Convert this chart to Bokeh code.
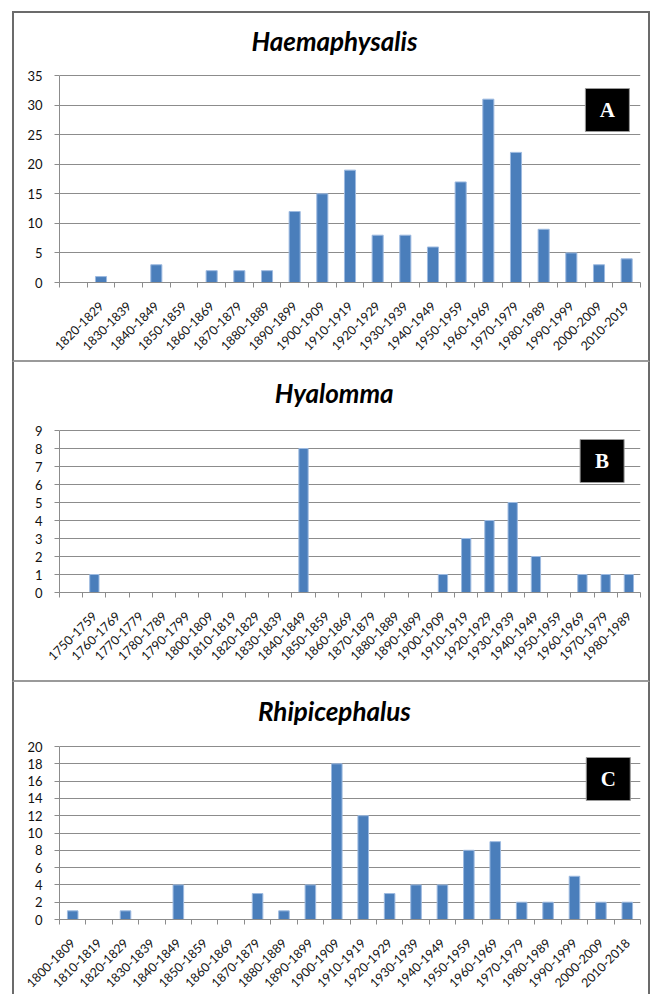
import math
from bokeh.plotting import figure
from bokeh.models import FixedTicker, Range1d, Label
from bokeh.layouts import column
from bokeh.embed import file_html
from bokeh.resources import INLINE

# ---------------- data ----------------
a_title = "Haemaphysalis"
a_cats = ["1820-1829", "1830-1839", "1840-1849", "1850-1859", "1860-1869",
          "1870-1879", "1880-1889", "1890-1899", "1900-1909", "1910-1919",
          "1920-1929", "1930-1939", "1940-1949", "1950-1959", "1960-1969",
          "1970-1979", "1980-1989", "1990-1999", "2000-2009", "2010-2019"]
a_vals = [1, 0, 3, 0, 2, 2, 2, 12, 15, 19, 8, 8, 6, 17, 31, 22, 9, 5, 3, 4]
a_yticks = [0, 5, 10, 15, 20, 25, 30, 35]

b_title = "Hyalomma"
b_cats = ["1750-1759", "1760-1769", "1770-1779", "1780-1789", "1790-1799",
          "1800-1809", "1810-1819", "1820-1829", "1830-1839", "1840-1849",
          "1850-1859", "1860-1869", "1870-1879", "1880-1889", "1890-1899",
          "1900-1909", "1910-1919", "1920-1929", "1930-1939", "1940-1949",
          "1950-1959", "1960-1969", "1970-1979", "1980-1989"]
b_vals = [1, 0, 0, 0, 0, 0, 0, 0, 0, 8, 0, 0, 0, 0, 0, 1, 3, 4, 5, 2, 0, 1, 1, 1]
b_yticks = [0, 1, 2, 3, 4, 5, 6, 7, 8, 9]

c_title = "Rhipicephalus"
c_cats = ["1800-1809", "1810-1819", "1820-1829", "1830-1839", "1840-1849",
          "1850-1859", "1860-1869", "1870-1879", "1880-1889", "1890-1899",
          "1900-1909", "1910-1919", "1920-1929", "1930-1939", "1940-1949",
          "1950-1959", "1960-1969", "1970-1979", "1980-1989", "1990-1999",
          "2000-2009", "2010-2018"]
c_vals = [1, 0, 1, 0, 4, 0, 0, 3, 1, 4, 18, 12, 3, 4, 4, 8, 9, 2, 2, 5, 2, 2]
c_yticks = [0, 2, 4, 6, 8, 10, 12, 14, 16, 18, 20]

# ---------------- style ----------------
BAR = "#4A7EBB"
BAR_EDGE = "#9DBAE0"
GRID = "#8C8C8C"
OUTER = "2px solid #6b6b6b"
DIVIDER = "2px solid #9a9a9a"
TITLE_SIZE = 26


def panel(title, title_y, letter, cats, vals, yticks, lead,
          w, h, fl, ft, fr, fb, box_c, styles):
    """ft = canvas px of the top tick; the frame itself reaches the canvas top
    so that the title and the letter box can be drawn inside it."""
    n = lead + len(cats)
    ymax = yticks[-1]
    frame_w = (w - 4) - fl - fr
    plot_h = h - ft - fb            # px between 0 and the top tick
    y_end = ymax * (h - fb) / plot_h

    def dx(px):
        return (px - fl) / frame_w * n

    def dy(py):
        return (h - fb - py) / plot_h * ymax

    p = figure(width=w, height=h, x_range=Range1d(0, n), y_range=Range1d(0, y_end),
               output_backend="svg", toolbar_location=None,
               min_border_left=fl, min_border_right=fr,
               min_border_top=0, min_border_bottom=fb,
               outline_line_color=None, background_fill_color="white",
               border_fill_color="white", styles=styles)

    # y axis & grid
    p.yaxis.ticker = FixedTicker(ticks=yticks)
    p.yaxis.bounds = (0, ymax)
    p.ygrid.ticker = FixedTicker(ticks=yticks)
    p.ygrid.grid_line_color = GRID
    p.ygrid.grid_line_width = 1
    p.xgrid.grid_line_color = None
    p.yaxis.axis_line_color = GRID
    p.yaxis.major_tick_line_color = GRID
    p.yaxis.major_tick_out = 5
    p.yaxis.major_tick_in = 0
    p.yaxis.minor_tick_line_color = None
    p.yaxis.major_label_standoff = 12
    p.yaxis.major_label_text_font = "Lato"
    p.yaxis.major_label_text_font_size = "13px"
    p.yaxis.major_label_text_color = "#111111"

    # x axis: labels at slot centres, ticks at slot boundaries
    centers = [i + 0.5 for i in range(n)]
    bounds = [float(i) for i in range(n + 1)]
    p.xaxis.ticker = FixedTicker(ticks=centers, minor_ticks=bounds)
    labels = [""] * lead + list(cats)
    p.xaxis.major_label_overrides = {c: l for c, l in zip(centers, labels)}
    p.xaxis.major_tick_line_color = None
    p.xaxis.minor_tick_line_color = GRID
    p.xaxis.minor_tick_out = 5
    p.xaxis.minor_tick_in = 0
    p.xaxis.axis_line_color = GRID
    p.xaxis.major_label_orientation = math.pi / 4
    p.xaxis.major_label_standoff = 15
    p.xaxis.major_label_text_font = "Lato"
    p.xaxis.major_label_text_font_size = "12.5px"
    p.xaxis.major_label_text_color = "#111111"

    # bars
    xs = [lead + i + 0.5 for i, v in enumerate(vals) if v > 0]
    tops = [v for v in vals if v > 0]
    p.vbar(x=xs, top=tops, width=0.4, fill_color=BAR, line_color=BAR_EDGE, line_width=1)

    # title (centred on the panel: page x 332 -> canvas x 318)
    p.add_layout(Label(x=dx(318), y=dy(title_y), text=title, text_align="center",
                       text_baseline="middle", text_font="Lato",
                       text_font_style="bold italic",
                       text_font_size=f"{TITLE_SIZE}px", text_color="black"))

    # letter box
    bx, by = box_c
    p.rect(x=[dx(bx)], y=[dy(by)], width=44, height=43, width_units="screen",
           height_units="screen", fill_color="black", line_color="#9a9a9a", line_width=1)
    p.add_layout(Label(x=dx(bx), y=dy(by), text=letter, text_align="center",
                       text_baseline="middle", text_font="Liberation Serif",
                       text_font_style="bold", text_font_size="21px",
                       text_color="white"))
    return p


pa = panel(a_title, 27, "A", a_cats, a_vals, a_yticks, 1, 638, 351, 44, 62, 11, 82,
           (590, 96.5),
           {"border-top": OUTER, "border-left": OUTER, "border-right": OUTER,
            "border-bottom": DIVIDER})
pb = panel(b_title, 30, "B", b_cats, b_vals, b_yticks, 1, 638, 320, 39, 68, 5, 90,
           (590, 98.5),
           {"border-left": OUTER, "border-right": OUTER, "border-bottom": DIVIDER})
pc = panel(c_title, 28, "C", c_cats, c_vals, c_yticks, 0, 638, 312, 45, 64, 12, 75,
           (590, 96.5),
           {"border-left": OUTER, "border-right": OUTER})

layout = column(pa, pb, pc, spacing=0, margin=(11, 0, 0, 12))

with open("out.html", "w") as f:
    f.write(file_html(layout, INLINE))
